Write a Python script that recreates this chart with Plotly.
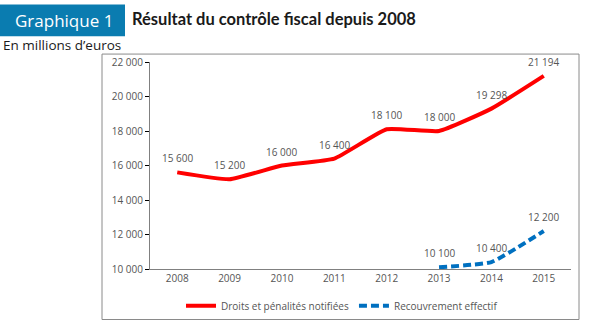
import plotly.graph_objects as go

years = ["2008", "2009", "2010", "2011", "2012", "2013", "2014", "2015"]
droits = [15600, 15200, 16000, 16400, 18100, 18000, 19298, 21194]
recouv_years = ["2013", "2014", "2015"]
recouv = [10100, 10400, 12200]
y_ticks = [10000, 12000, 14000, 16000, 18000, 20000, 22000]

def fmt(v):
    return f"{v:,}".replace(",", " ")

FONT = "Open Sans"
GREY = "#555555"

fig = go.Figure()
fig.add_trace(go.Scatter(
    x=years, y=droits, mode="lines", name="Droits et pénalités notifiées",
    line=dict(color="#FF0000", width=4, shape="spline", smoothing=0.4),
))
fig.add_trace(go.Scatter(
    x=recouv_years, y=recouv, mode="lines", name="Recouvrement effectif",
    line=dict(color="#0070C0", width=4, dash="8px,4px", shape="spline", smoothing=0.4),
))

W, H = 597, 332
L, R, T, B = 150, 26, 62, 61
pw, ph = W - L - R, H - T - B

def px(x):
    return (x - L) / pw

def py(y):
    return (H - B - y) / ph

annotations = []
for xs, ys in ((years, droits), (recouv_years, recouv)):
    for x, y in zip(xs, ys):
        annotations.append(dict(x=years.index(x), y=y, xref="x", yref="y", text=fmt(y), showarrow=False,
                                xanchor="center", yanchor="middle", yshift=14,
                                font=dict(family=FONT, size=10, color=GREY)))

annotations += [
    dict(xref="paper", yref="paper", x=px(64), y=py(20), text="Graphique 1", showarrow=False,
         xanchor="center", yanchor="middle", font=dict(family=FONT, size=17, color="white")),
    dict(xref="paper", yref="paper", x=px(130), y=py(19), text="<b>Résultat du contrôle fiscal depuis 2008</b>",
         showarrow=False, xanchor="left", yanchor="middle", font=dict(family="Lato", size=16.5, color="#1a1a1a")),
    dict(xref="paper", yref="paper", x=px(1), y=py(45), text="En millions d’euros", showarrow=False,
         xanchor="left", yanchor="middle", font=dict(family=FONT, size=13.5, color="#1a1a1a")),
]

fig.update_layout(
    width=W, height=H, margin=dict(l=L, r=R, t=T, b=B),
    paper_bgcolor="white", plot_bgcolor="white",
    font=dict(family=FONT, size=10, color=GREY),
    showlegend=True,
    legend=dict(orientation="h", x=px(342), y=py(308), xanchor="center", yanchor="middle",
                font=dict(family=FONT, size=10, color=GREY), itemwidth=30,
                bgcolor="rgba(0,0,0,0)", tracegroupgap=0),
    xaxis=dict(type="category", categoryorder="array", categoryarray=years,
               range=[-0.52, 7.52], showline=True, linecolor="#808080", linewidth=1,
               ticks="", showgrid=False, zeroline=False, fixedrange=True,
               tickfont=dict(family=FONT, size=10, color=GREY)),
    yaxis=dict(range=[10000, 22000], tickvals=y_ticks, ticktext=[fmt(v) for v in y_ticks],
               showline=True, linecolor="#808080", linewidth=1, ticks="outside",
               ticklen=4, tickcolor="#000000", showgrid=False, zeroline=False,
               tickfont=dict(family=FONT, size=10, color=GREY)),
    shapes=[
        dict(type="rect", xref="paper", yref="paper", x0=px(102), x1=px(579),
             y0=py(322), y1=py(54), line=dict(color="#8a8a8a", width=1), fillcolor="rgba(0,0,0,0)", layer="below"),
        dict(type="rect", xref="paper", yref="paper", x0=px(0), x1=px(125),
             y0=py(36), y1=py(4), line=dict(width=0), fillcolor="#0a7cb0", layer="below"),
    ],
    annotations=annotations,
)

fig.write_html("out.html")
